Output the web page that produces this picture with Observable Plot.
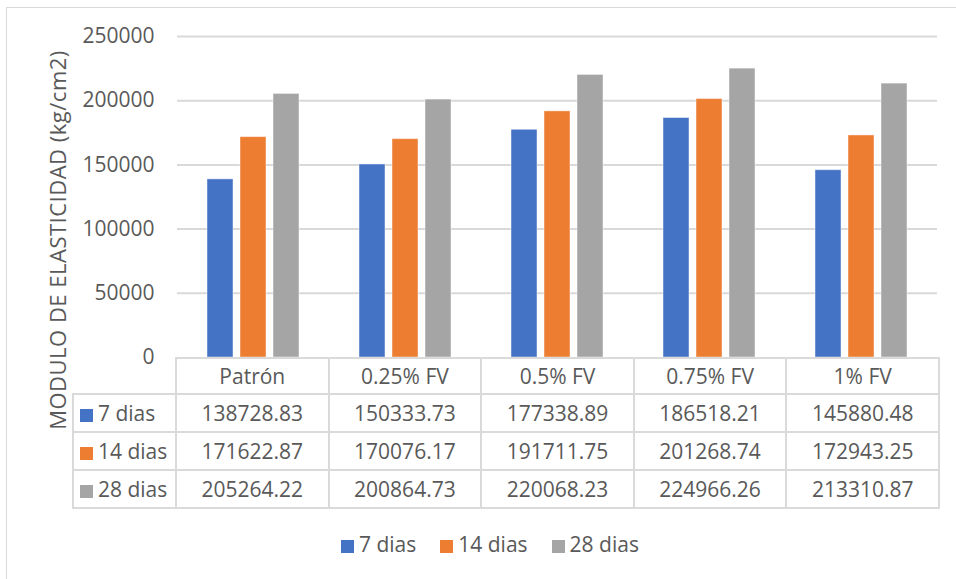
<!DOCTYPE html>
<html>
<head>
<meta charset="utf-8">
<script src="https://cdn.jsdelivr.net/npm/d3@7"></script>
<script src="https://cdn.jsdelivr.net/npm/@observablehq/plot@0.6"></script>
<style>
  body { margin: 0; background: #fff; }
  #wrap { position: relative; width: 956px; height: 579px; overflow: hidden; background: #fff;
          font-family: "Open Sans", "Noto Sans", sans-serif; color: #595959; }
  #frame { position: absolute; left: 6px; top: 7px; width: 1000px; height: 1000px; border: 1px solid #d9d9d9; box-sizing: border-box; }
  #chart { position: absolute; left: 0; top: 0; }
  #ylabel { position: absolute; left: 57px; top: 240px; transform: translate(-50%, -50%) rotate(-90deg);
            white-space: nowrap; font-size: 22px; letter-spacing: 0.5px; }
  #tbl { position: absolute; left: 72px; top: 357px; border-collapse: collapse; font-size: 21px; table-layout: fixed; }
  #tbl td { border: 2px solid #dadada; text-align: center; padding: 0; white-space: nowrap; }
  #tbl td.blank { border-top: none; border-left: none; }
  #tbl td.lab { text-align: left; padding-left: 6px; }
  .sw { display: inline-block; width: 13px; height: 13px; margin-right: 5px; vertical-align: -1px; }
  #legend { position: absolute; top: 530px; left: 341px; font-size: 21px; white-space: nowrap; }
  #legend span.item { margin-right: 24px; }
</style>
</head>
<body>
<div id="wrap">
  <div id="frame"></div>
  <div id="chart"></div>
  <div id="ylabel"></div>
  <table id="tbl"></table>
  <div id="legend"></div>
</div>
<script>
const categories = ["Patrón", "0.25% FV", "0.5% FV", "0.75% FV", "1% FV"];
const seriesNames = ["7 dias", "14 dias", "28 dias"];
const seriesColors = ["#4472C4", "#ED7D31", "#A5A5A5"];
const dias7  = [138728.83, 150333.73, 177338.89, 186518.21, 145880.48];
const dias14 = [171622.87, 170076.17, 191711.75, 201268.74, 172943.25];
const dias28 = [205264.22, 200864.73, 220068.23, 224966.26, 213310.87];
const yTicks = [0, 50000, 100000, 150000, 200000, 250000];
const gridTicks = [50000, 100000, 150000, 200000, 250000];
const yLabel = "MODULO DE ELASTICIDAD (kg/cm2)";

const seriesValues = [dias7, dias14, dias28];
const data = [];
categories.forEach((c, i) => seriesNames.forEach((s, j) => data.push({cat: c, serie: s, value: seriesValues[j][i]})));

const W = 956, mL = 175, mR = 18;
const chart = Plot.plot({
  width: W, height: 370,
  marginLeft: mL, marginRight: mR, marginTop: 36, marginBottom: 13,
  style: {fontFamily: '"Open Sans", "Noto Sans", sans-serif', fontSize: "21px", color: "#595959", background: "transparent"},
  facet: {data, x: "cat"},
  fx: {domain: categories, padding: 0, axis: null, label: null},
  x: {domain: seriesNames, paddingInner: 0.208, paddingOuter: 0.868, align: 0.5, axis: null},
  y: {domain: [0, 250000], ticks: yTicks, tickFormat: d => String(d), tickSize: 0, tickPadding: 23, label: null},
  color: {domain: seriesNames, range: seriesColors},
  marks: [
    Plot.ruleY(gridTicks, {stroke: "#d9d9d9", strokeWidth: 2}),
    Plot.barY(data, {x: "serie", y: "value", fill: "serie", stroke: "#ffffff", strokeOpacity: 0.45, strokeWidth: 1})
  ]
});
document.getElementById("chart").appendChild(chart);
document.getElementById("ylabel").textContent = yLabel;

// data table
const colW = (W - mL - mR) / categories.length;
const tbl = document.getElementById("tbl");
const cg = document.createElement("colgroup");
[mL - 72, ...categories.map(() => colW)].forEach(w => { const c = document.createElement("col"); c.style.width = w + "px"; cg.appendChild(c); });
tbl.appendChild(cg);
const head = document.createElement("tr"); head.style.height = "36px";
const blank = document.createElement("td"); blank.className = "blank"; head.appendChild(blank);
categories.forEach(c => { const td = document.createElement("td"); td.textContent = c; head.appendChild(td); });
tbl.appendChild(head);
seriesNames.forEach((s, j) => {
  const tr = document.createElement("tr"); tr.style.height = "38px";
  const lab = document.createElement("td"); lab.className = "lab";
  lab.innerHTML = `<span class="sw" style="background:${seriesColors[j]}"></span>${s}`;
  tr.appendChild(lab);
  seriesValues[j].forEach(v => { const td = document.createElement("td"); td.textContent = v.toFixed(2); tr.appendChild(td); });
  tbl.appendChild(tr);
});

// legend
const lg = document.getElementById("legend");
seriesNames.forEach((s, j) => {
  const it = document.createElement("span"); it.className = "item";
  it.innerHTML = `<span class="sw" style="background:${seriesColors[j]}"></span>${s}`;
  lg.appendChild(it);
});
</script>
</body>
</html>
